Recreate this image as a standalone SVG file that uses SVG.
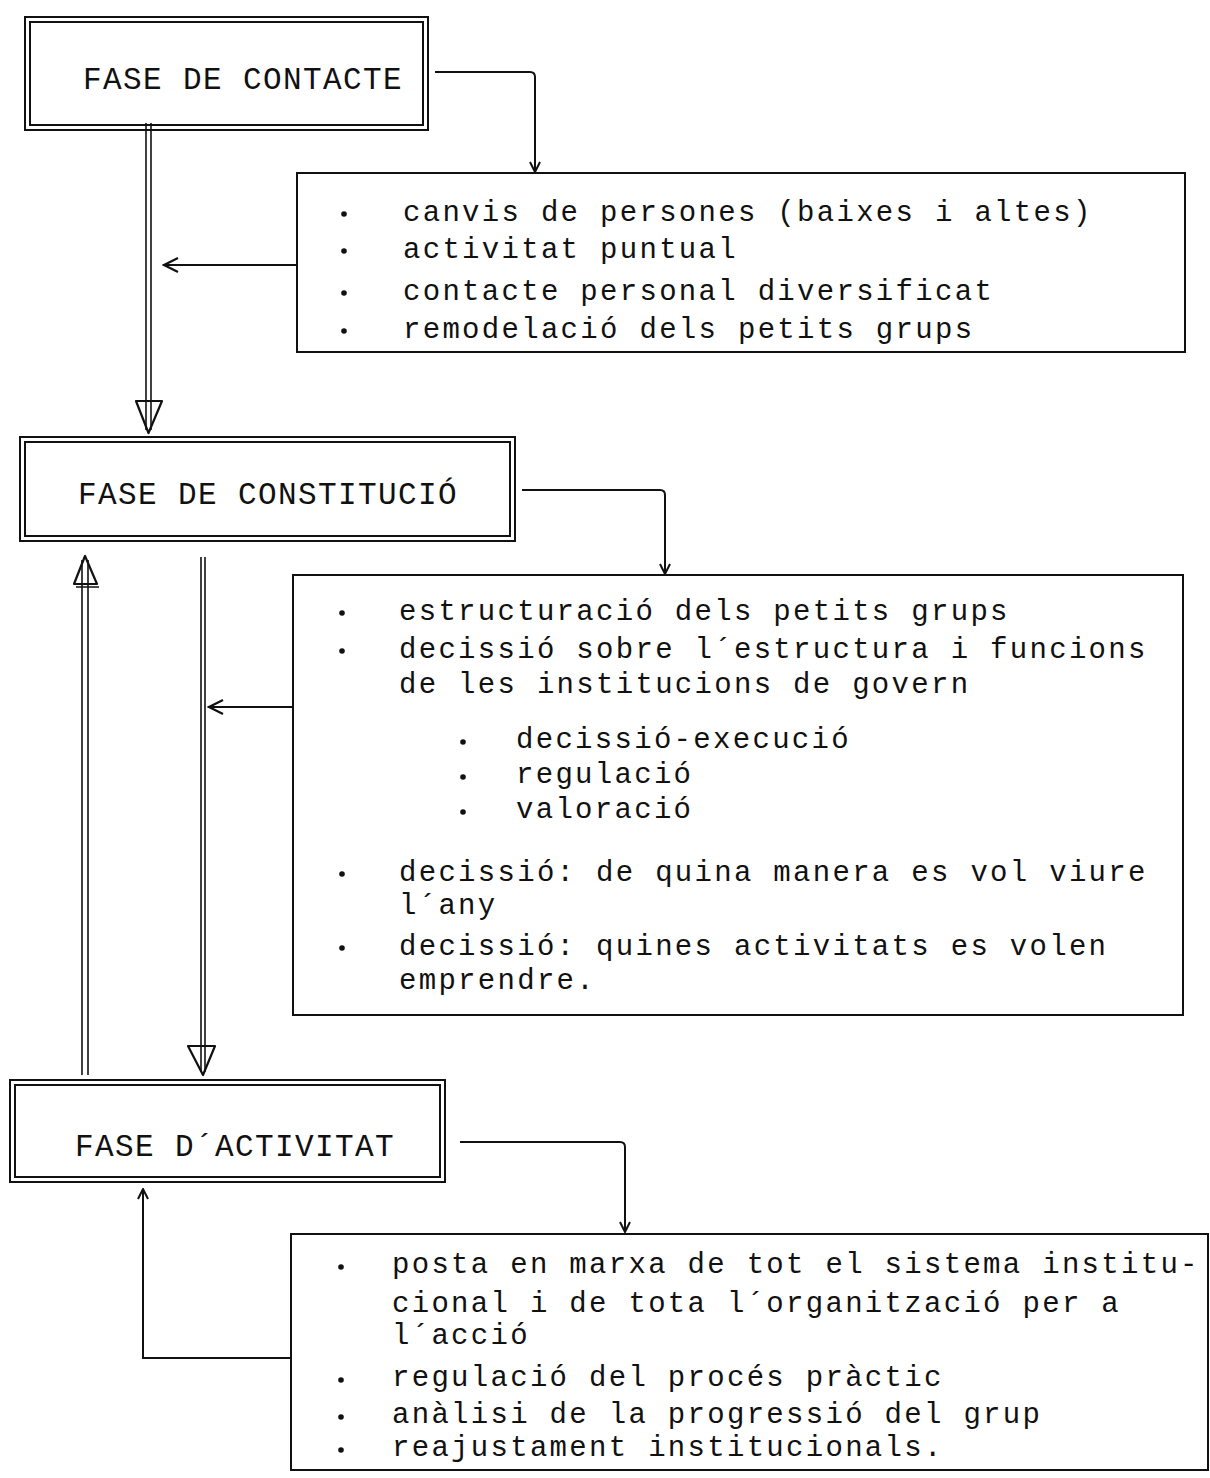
<svg xmlns="http://www.w3.org/2000/svg" width="1210" height="1478" viewBox="0 0 1210 1478">
<style>
  .bg{fill:#ffffff}
  .frame{fill:none;stroke:#111;stroke-width:2}
  .box{fill:none;stroke:#111;stroke-width:2}
  .head{font-family:"Liberation Mono","DejaVu Sans Mono",monospace;font-size:31px;fill:#111;letter-spacing:1.4px}
  .txt{font-family:"Liberation Mono","DejaVu Sans Mono",monospace;font-size:29px;fill:#111;letter-spacing:2.3px}
  .dot{fill:#111}
  .line{fill:none;stroke:#111;stroke-width:2}
  .thin{fill:none;stroke:#111;stroke-width:1.6}
  .tri{fill:none;stroke:#111;stroke-width:2.2;stroke-linejoin:round}
</style>
<defs>
  <marker id="vee" viewBox="0 0 12 12" refX="11" refY="6" markerWidth="12" markerHeight="12" markerUnits="userSpaceOnUse" orient="auto">
    <path d="M1,1 L11,6 L1,11" fill="none" stroke="#111" stroke-width="2"/>
  </marker>
  <marker id="open" viewBox="0 0 20 16" refX="1" refY="8" markerWidth="20" markerHeight="16" markerUnits="userSpaceOnUse" orient="auto">
    <path d="M16,1 L2,8 L16,15" fill="none" stroke="#111" stroke-width="2.2"/>
  </marker>
</defs>
<rect class="bg" x="0" y="0" width="1210" height="1478"/>

<g id="connectors">
  <path class="line" d="M435,72 H530 Q535,72 535,77 V172" marker-end="url(#vee)"/>
  <path class="line" d="M163,265 H297" marker-start="url(#open)"/>
  <line class="thin" x1="146" y1="123" x2="146" y2="430"/>
  <line class="thin" x1="151" y1="123" x2="151" y2="430"/>
  <polygon class="tri" points="136,401 162,401 148.5,433"/>

  <path class="line" d="M522,490 H660 Q665,490 665,495 V574" marker-end="url(#vee)"/>
  <path class="line" d="M208,707 H293" marker-start="url(#open)"/>

  <line class="thin" x1="82" y1="560" x2="82" y2="1075"/>
  <line class="thin" x1="88" y1="560" x2="88" y2="1075"/>
  <polygon class="tri" points="85,556 74,584 97,584"/>
  <line class="line" x1="76" y1="587" x2="99" y2="587" style="stroke-width:1.5"/>

  <line class="thin" x1="201" y1="557" x2="201" y2="1072"/>
  <line class="thin" x1="205" y1="557" x2="205" y2="1072"/>
  <polygon class="tri" points="188,1046 215,1046 203,1075"/>

  <path class="line" d="M460,1142 H620 Q625,1142 625,1147 V1232" marker-end="url(#vee)"/>
  <path class="line" d="M291,1358 H143 V1189" marker-end="url(#vee)"/>
</g>

<g id="node-fase-contacte">
  <rect class="frame" x="25" y="17" width="403" height="113"/>
  <rect class="frame" x="30" y="22" width="393" height="103"/>
  <text class="head" x="83" y="89">FASE DE CONTACTE</text>
</g>

<g id="node-contacte-list">
  <rect class="box" x="297" y="173" width="888" height="179"/>
  <circle class="dot" cx="344" cy="214" r="2.8"/>
  <circle class="dot" cx="344" cy="251" r="2.8"/>
  <circle class="dot" cx="344" cy="293" r="2.8"/>
  <circle class="dot" cx="344" cy="331" r="2.8"/>
  <text class="txt" x="403" y="221">canvis de persones (baixes i altes)</text>
  <text class="txt" x="403" y="258">activitat puntual</text>
  <text class="txt" x="403" y="300">contacte personal diversificat</text>
  <text class="txt" x="403" y="338">remodelació dels petits grups</text>
</g>

<g id="node-fase-constitucio">
  <rect class="frame" x="20" y="437" width="495" height="104"/>
  <rect class="frame" x="25" y="442" width="485" height="94"/>
  <text class="head" x="78" y="504">FASE DE CONSTITUCIÓ</text>
</g>

<g id="node-constitucio-list">
  <rect class="box" x="293" y="575" width="890" height="440"/>
  <circle class="dot" cx="342" cy="613" r="2.8"/>
  <circle class="dot" cx="342" cy="651" r="2.8"/>
  <circle class="dot" cx="463" cy="742" r="2.8"/>
  <circle class="dot" cx="463" cy="777" r="2.8"/>
  <circle class="dot" cx="463" cy="812" r="2.8"/>
  <circle class="dot" cx="342" cy="874" r="2.8"/>
  <circle class="dot" cx="342" cy="948" r="2.8"/>
  <text class="txt" x="399" y="620">estructuració dels petits grups</text>
  <text class="txt" x="399" y="658">decissió sobre l´estructura i funcions</text>
  <text class="txt" x="399" y="693">de les institucions de govern</text>
  <text class="txt" x="516" y="748">decissió-execució</text>
  <text class="txt" x="516" y="783">regulació</text>
  <text class="txt" x="516" y="818">valoració</text>
  <text class="txt" x="399" y="881">decissió: de quina manera es vol viure</text>
  <text class="txt" x="399" y="914">l´any</text>
  <text class="txt" x="399" y="955">decissió: quines activitats es volen</text>
  <text class="txt" x="399" y="989">emprendre.</text>
</g>

<g id="node-fase-activitat">
  <rect class="frame" x="10" y="1080" width="435" height="102"/>
  <rect class="frame" x="15" y="1085" width="425" height="92"/>
  <text class="head" x="75" y="1156">FASE D´ACTIVITAT</text>
</g>

<g id="node-activitat-list">
  <rect class="box" x="291" y="1234" width="917" height="236"/>
  <circle class="dot" cx="341" cy="1267" r="2.8"/>
  <circle class="dot" cx="341" cy="1380" r="2.8"/>
  <circle class="dot" cx="341" cy="1417" r="2.8"/>
  <circle class="dot" cx="341" cy="1450" r="2.8"/>
  <text class="txt" x="392" y="1273">posta en marxa de tot el sistema institu-</text>
  <text class="txt" x="392" y="1312">cional i de tota l´organització per a</text>
  <text class="txt" x="392" y="1344">l´acció</text>
  <text class="txt" x="392" y="1386">regulació del procés pràctic</text>
  <text class="txt" x="392" y="1423">anàlisi de la progressió del grup</text>
  <text class="txt" x="392" y="1456">reajustament institucionals.</text>
</g>
</svg>
